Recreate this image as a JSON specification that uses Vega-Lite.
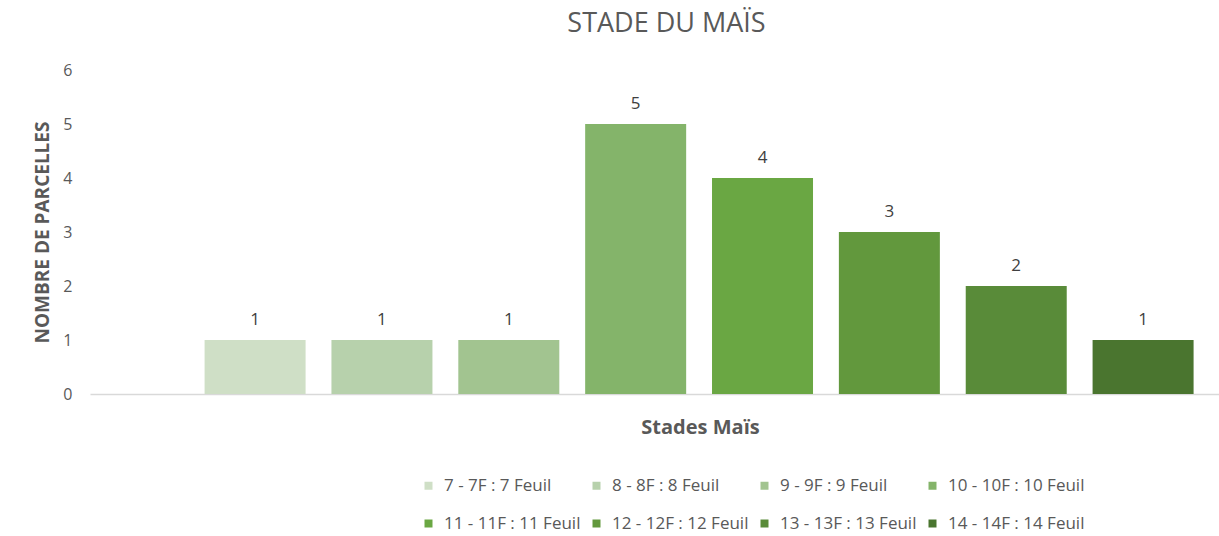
{
  "$schema": "https://vega.github.io/schema/vega-lite/v6.json",
  "autosize": "none",
  "width": 1129,
  "height": 324,
  "padding": {"left": 90, "top": 70, "right": 0, "bottom": 142},
  "background": "white",
  "config": {"view": {"stroke": null}, "font": "Open Sans"},
  "title": {"text": "STADE DU MAÏS", "fontSize": 27, "fontWeight": "normal", "color": "#595959", "font": "Open Sans", "anchor": "middle", "dx": 12, "offset": 24},
  "data": {"values": [
    {"stade": "7 - 7F : 7 Feuil", "num": 7, "parcelles": 1},
    {"stade": "8 - 8F : 8 Feuil", "num": 8, "parcelles": 1},
    {"stade": "9 - 9F : 9 Feuil", "num": 9, "parcelles": 1},
    {"stade": "10 - 10F : 10 Feuil", "num": 10, "parcelles": 5},
    {"stade": "11 - 11F : 11 Feuil", "num": 11, "parcelles": 4},
    {"stade": "12 - 12F : 12 Feuil", "num": 12, "parcelles": 3},
    {"stade": "13 - 13F : 13 Feuil", "num": 13, "parcelles": 2},
    {"stade": "14 - 14F : 14 Feuil", "num": 14, "parcelles": 1}
  ]},
  "encoding": {
    "x": {"field": "num", "type": "quantitative",
      "scale": {"domain": [5.738, 14.559], "nice": false, "zero": false},
      "axis": {"labels": false, "ticks": false, "grid": false, "domain": true, "domainColor": "#d9d9d9", "domainWidth": 1.5,
        "title": "Stades Maïs", "titleFont": "Open Sans", "titleFontSize": 20, "titleFontWeight": "bold", "titleColor": "#595959",
        "titleX": 610, "titleY": 39, "titleBaseline": "alphabetic", "titleAnchor": "middle", "titleAlign": "center"}},
    "y": {"field": "parcelles", "type": "quantitative",
      "scale": {"domain": [0, 6], "nice": false},
      "axis": {"values": [0, 1, 2, 3, 4, 5, 6], "ticks": false, "grid": false, "domain": false,
        "labelFont": "Open Sans", "labelFontSize": 16, "labelColor": "#595959", "labelPadding": 18,
        "title": "NOMBRE DE PARCELLES", "titleFont": "Open Sans", "titleFontSize": 19, "titleFontWeight": "bold", "titleColor": "#595959", "titlePadding": 10}}
  },
  "layer": [
    {"mark": {"type": "bar", "size": 101},
     "encoding": {"color": {"field": "stade", "type": "nominal",
        "sort": ["7 - 7F : 7 Feuil", "8 - 8F : 8 Feuil", "9 - 9F : 9 Feuil", "10 - 10F : 10 Feuil", "11 - 11F : 11 Feuil", "12 - 12F : 12 Feuil", "13 - 13F : 13 Feuil", "14 - 14F : 14 Feuil"],
        "scale": {"domain": ["7 - 7F : 7 Feuil", "8 - 8F : 8 Feuil", "9 - 9F : 9 Feuil", "10 - 10F : 10 Feuil", "11 - 11F : 11 Feuil", "12 - 12F : 12 Feuil", "13 - 13F : 13 Feuil", "14 - 14F : 14 Feuil"],
                  "range": ["#cfdfc6", "#b7d1ac", "#a2c490", "#84b46a", "#6aa743", "#62983d", "#598b39", "#4a752f"]},
        "legend": {"title": null, "orient": "none", "legendX": 330, "legendY": 407, "direction": "horizontal", "columns": 4, "gridAlign": "all",
          "symbolType": "square", "symbolSize": 64, "symbolStrokeWidth": 0, "labelFont": "Open Sans", "labelFontSize": 17, "labelColor": "#595959",
          "labelOffset": 7, "columnPadding": 7, "rowPadding": 20, "labelLimit": 300}}}},
    {"mark": {"type": "text", "dy": -15, "baseline": "alphabetic", "font": "Open Sans", "fontSize": 17, "color": "#404040"},
     "encoding": {"text": {"field": "parcelles", "type": "quantitative"}}}
  ]
}
